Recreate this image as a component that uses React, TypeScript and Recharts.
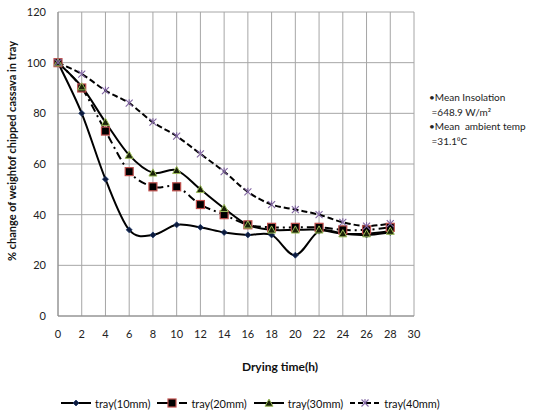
import React from 'react';
import { LineChart, Line, XAxis, YAxis, CartesianGrid, Legend } from 'recharts';

const hours = [0, 2, 4, 6, 8, 10, 12, 14, 16, 18, 20, 22, 24, 26, 28];
const tray10 = [100, 80, 54, 34, 32, 36, 35, 33, 32, 32, 24, 33.5, 32.5, 32, 33];
const tray20 = [100, 90, 73, 57, 51, 51, 44, 40, 36, 35, 35, 35, 34, 34, 35];
const tray30 = [100, 90.5, 76.5, 63.5, 56.5, 57.5, 50, 42.5, 36, 34, 34, 34, 32.5, 32.5, 33.5];
const tray40 = [100, 95.5, 89, 84, 76.5, 71, 64, 57, 49, 44, 42, 40, 37, 35.5, 36.5];
const xTicks = [0, 2, 4, 6, 8, 10, 12, 14, 16, 18, 20, 22, 24, 26, 28, 30];
const yTicks = [0, 20, 40, 60, 80, 100, 120];
const seriesNames = ['tray(10mm)', 'tray(20mm)', 'tray(30mm)', 'tray(40mm)'];
const noteLines = ['\u2022Mean Insolation', ' =648.9 W/m\u00B2', '\u2022Mean  ambient temp', ' =31.1\u2070C'];

const data = hours.map((h, i) => ({ h, t10: tray10[i], t20: tray20[i], t30: tray30[i], t40: tray40[i] }));

const FONT = 'Lato, "Open Sans", sans-serif';

// Catmull-Rom style smoothing (like Excel "smoothed line")
const smoothCurve = (context: any) => {
  let pts: [number, number][] = [];
  return {
    areaStart() {},
    areaEnd() {},
    lineStart() {
      pts = [];
    },
    lineEnd() {
      if (!pts.length) return;
      context.moveTo(pts[0][0], pts[0][1]);
      for (let i = 0; i < pts.length - 1; i++) {
        const p0 = pts[i - 1] || pts[i];
        const p1 = pts[i];
        const p2 = pts[i + 1];
        const p3 = pts[i + 2] || p2;
        context.bezierCurveTo(
          p1[0] + (p2[0] - p0[0]) / 6,
          p1[1] + (p2[1] - p0[1]) / 6,
          p2[0] - (p3[0] - p1[0]) / 6,
          p2[1] - (p3[1] - p1[1]) / 6,
          p2[0],
          p2[1]
        );
      }
    },
    point(x: number, y: number) {
      pts.push([+x, +y]);
    },
  };
};

const Diamond = ({ cx, cy }: any) => (
  <path d={`M${cx},${cy - 3}L${cx + 3},${cy}L${cx},${cy + 3}L${cx - 3},${cy}Z`} fill="#0d1b3d" stroke="#1F3A6B" strokeWidth={0.8} />
);
const Square = ({ cx, cy }: any) => (
  <rect x={cx - 4} y={cy - 4} width={8} height={8} fill="#000" stroke="#C0504D" strokeWidth={1.2} />
);
const Triangle = ({ cx, cy }: any) => (
  <path d={`M${cx},${cy - 4}L${cx + 4},${cy + 3.2}L${cx - 4},${cy + 3.2}Z`} fill="#1a2208" stroke="#9BBB59" strokeWidth={1} />
);
const Star = ({ cx, cy }: any) => (
  <g stroke="#8064A2" strokeWidth={1.1}>
    <line x1={cx - 3.5} y1={cy - 3.5} x2={cx + 3.5} y2={cy + 3.5} />
    <line x1={cx - 3.5} y1={cy + 3.5} x2={cx + 3.5} y2={cy - 3.5} />
    <line x1={cx} y1={cy - 4} x2={cx} y2={cy - 1} />
  </g>
);

const markers = [Diamond, Square, Triangle, Star];
const dashes = [undefined, '8 4 2 4', undefined, '6 3'];

const mkDot = (M: any) => (props: any) => {
  const { cx, cy, index } = props;
  if (cx == null || cy == null) return <g key={index} />;
  return <M key={index} cx={cx} cy={cy} />;
};

const LegendContent = () => (
  <div style={{ width: 534, height: 20, display: 'flex', alignItems: 'center', paddingLeft: 60, boxSizing: 'border-box', fontFamily: FONT, fontSize: 11, color: '#111' }}>
    {seriesNames.map((name, i) => {
      const M = markers[i];
      return (
        <div key={name} style={{ display: 'flex', alignItems: 'center', marginRight: 6 }}>
          <svg width={32} height={12} style={{ marginRight: 3 }}>
            <line x1={1} y1={6} x2={31} y2={6} stroke="#000" strokeWidth={2} strokeDasharray={i === 1 ? '12 4 2 4' : i === 3 ? '5 3' : undefined} />
            <M cx={16} cy={6} />
          </svg>
          <span>{name}</span>
        </div>
      );
    })}
  </div>
);

export default function App() {
  return (
    <div style={{ position: 'absolute', left: 0, top: 0, width: 534, height: 413, background: '#fff' }}>
      <LineChart width={534} height={413} data={data} margin={{ top: 12, right: 120, bottom: 0, left: 0 }}>
        <CartesianGrid stroke="#A6A6A6" strokeWidth={1} />
        <XAxis
          dataKey="h"
          type="number"
          domain={[0, 30]}
          ticks={xTicks}
          interval={0}
          height={77}
          tickLine={false}
          tickSize={6}
          tickMargin={8}
          axisLine={{ stroke: '#8C8C8C' }}
          tick={{ fontSize: 11, fill: '#222', fontFamily: FONT }}
          label={{
            content: ({ viewBox }: any) => (
              <text x={280} y={viewBox.y + 55} textAnchor="middle" fontFamily={FONT} fontSize={12} fontWeight="bold" fill="#111">
                Drying time(h)
              </text>
            ),
          }}
        />
        <YAxis
          type="number"
          domain={[0, 120]}
          ticks={yTicks}
          interval={0}
          width={58}
          tickLine={false}
          tickSize={6}
          tickMargin={6}
          axisLine={{ stroke: '#8C8C8C' }}
          tick={{ fontSize: 11, fill: '#222', fontFamily: FONT }}
          label={{
            content: () => (
              <text x={0} y={0} transform="translate(16,151) rotate(-90)" textAnchor="middle" fontFamily={FONT} fontSize={11} fontWeight="bold" fill="#111">
                %  change of weightof chipped cassava in tray
              </text>
            ),
          }}
        />
        <Legend verticalAlign="bottom" content={<LegendContent />} wrapperStyle={{ left: 0, width: 534 }} />
        <Line dataKey="t10" name={seriesNames[0]} type={smoothCurve as any} stroke="#000" strokeWidth={2} dot={mkDot(Diamond)} activeDot={false} isAnimationActive={false} />
        <Line dataKey="t20" name={seriesNames[1]} type={smoothCurve as any} stroke="#000" strokeWidth={2} strokeDasharray={dashes[1]} dot={mkDot(Square)} activeDot={false} isAnimationActive={false} />
        <Line dataKey="t30" name={seriesNames[2]} type={smoothCurve as any} stroke="#000" strokeWidth={2} dot={mkDot(Triangle)} activeDot={false} isAnimationActive={false} />
        <Line dataKey="t40" name={seriesNames[3]} type={smoothCurve as any} stroke="#000" strokeWidth={2} strokeDasharray={dashes[3]} dot={mkDot(Star)} activeDot={false} isAnimationActive={false} />
      </LineChart>
      <div style={{ position: 'absolute', left: 429, top: 90, fontFamily: FONT, fontSize: 10, lineHeight: '14.7px', color: '#222', whiteSpace: 'pre' }}>
        {noteLines.map((t) => (
          <div key={t}>{t}</div>
        ))}
      </div>
    </div>
  );
}
